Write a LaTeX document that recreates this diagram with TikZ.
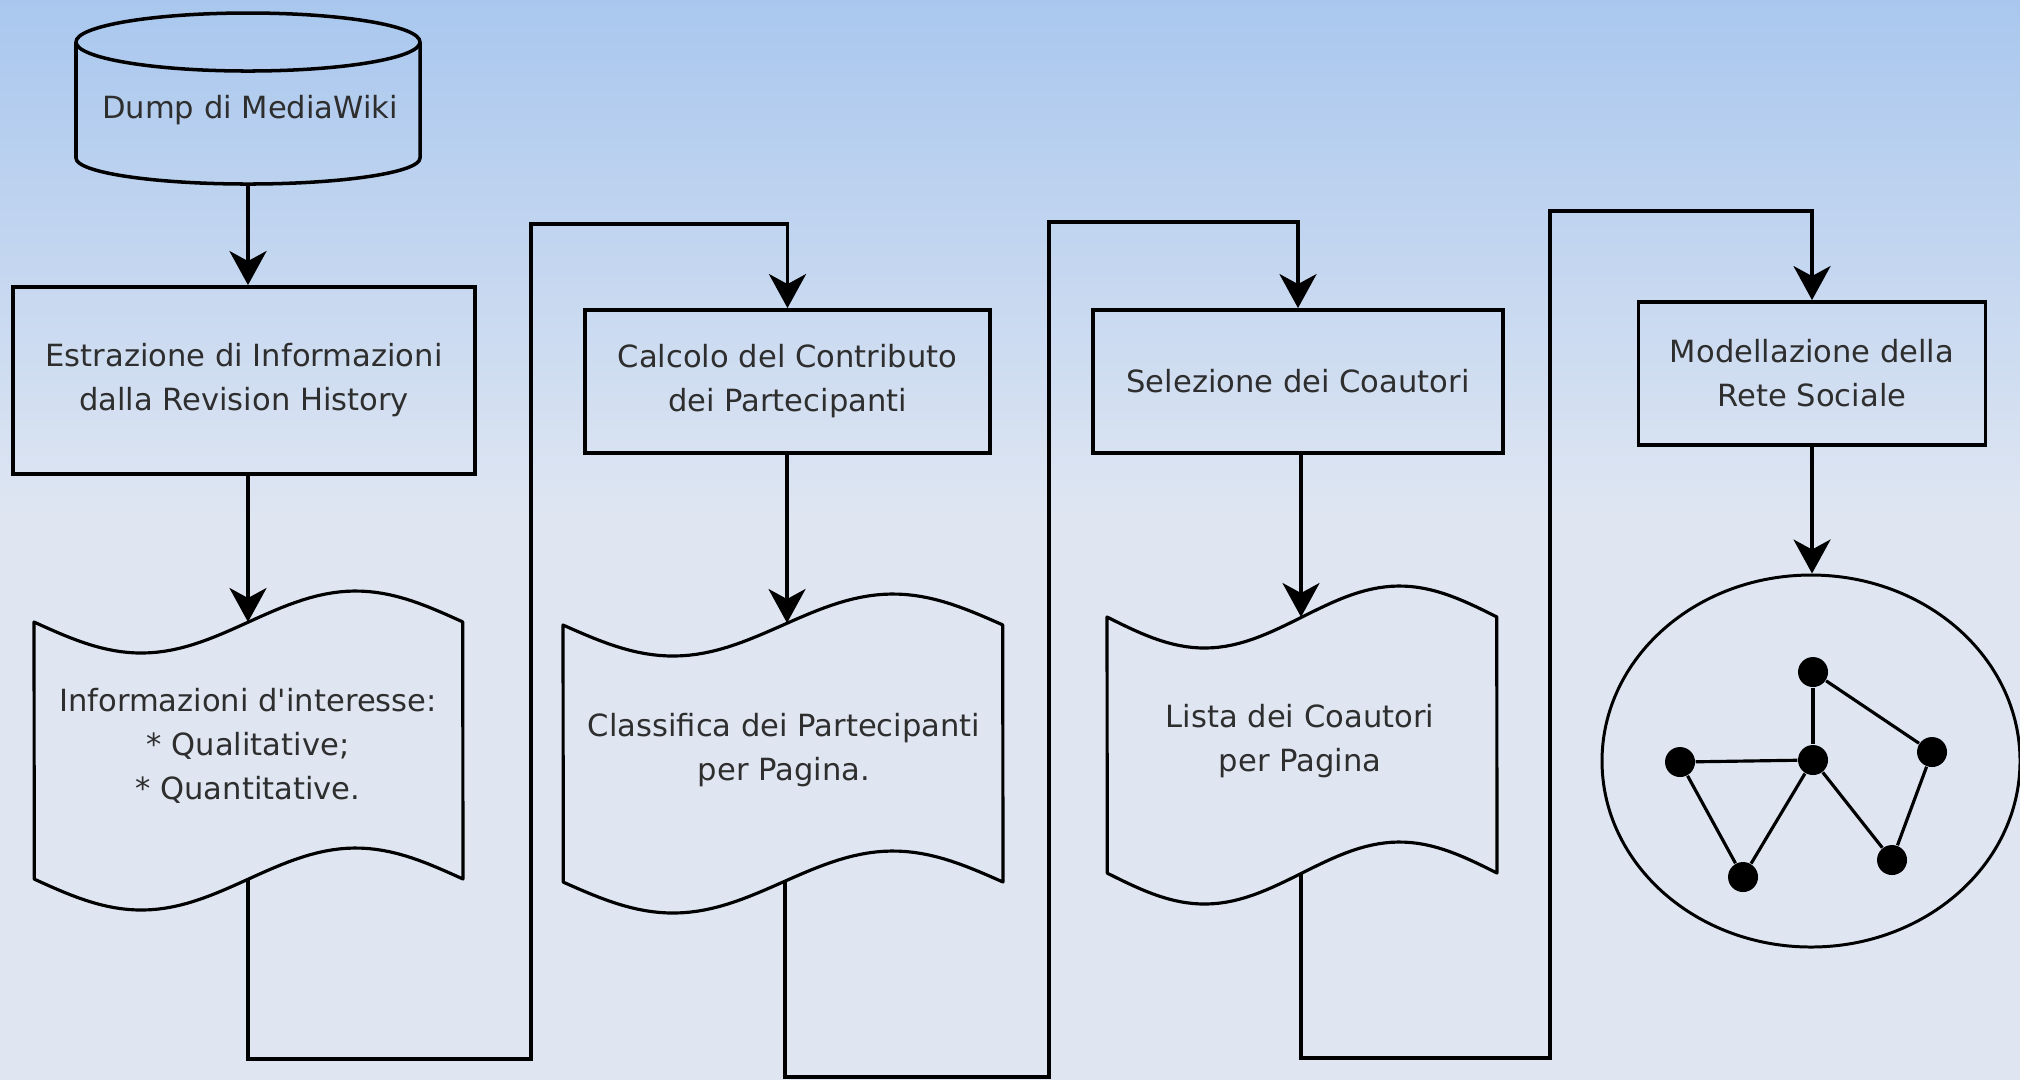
\documentclass[tikz,border=0pt]{standalone}
\usepackage{fontspec}
\setmainfont{DejaVu Sans}
% a family without the TeX ligature mapping, so that ' stays a straight quote
\newfontfamily\labelfont{DejaVu Sans}
\usetikzlibrary{arrows.meta,shapes.geometric}

\definecolor{bgtop}{HTML}{A9C7EE}
\definecolor{bgbot}{HTML}{DFE6F2}
\definecolor{ink}{HTML}{2E2E2E}

% punched-tape outline: left x, right x, top corner y, bottom corner y, amplitude
\newcommand\tapeoutline[5]{%
  \draw[tape] plot[domain=0:1, samples=60] ({#1+\x*(#2-#1)}, {#3+#5*sin(360*\x)})
    -- plot[domain=1:0, samples=60] ({#1+\x*(#2-#1)}, {#4+#5*sin(360*\x)}) -- cycle;}

\tikzset{
  lbl/.style={font=\labelfont\fontsize{8.7}{12.5}\selectfont, text=ink, align=center, inner sep=0pt},
  box/.style={lbl, draw=black, line width=1.1pt, minimum height=14.3mm},
  arr/.style={draw=black, line width=1.1pt,
    -{Stealth[length=3.4mm, width=3.7mm, inset=1.0mm]}},
  tape/.style={draw=black, line width=0.9pt, line join=round},
  dot/.style={circle, fill=black, inner sep=0pt, minimum size=3mm},
  edge/.style={draw=black, line width=0.9pt},
}

\begin{document}
\begin{tikzpicture}[x=0.1mm, y=-0.1mm]
  % background
  \useasboundingbox (0,0) rectangle (2020,1080);
  \shade[top color=bgtop, bottom color=bgbot] (0,0) rectangle (2020,521);
  \fill[bgbot] (0,520) rectangle (2020,1080);

  % data store
  \draw[tape, line width=1pt] (248,42) ellipse [x radius=172, y radius=29];
  \draw[tape, line width=1pt] (76,42) -- (76,158)
    arc[start angle=180, end angle=0, x radius=172, y radius=26] -- (420,42);
  \node[lbl] (dump) at (250,110) {Dump di MediaWiki};
  \coordinate (dbot) at (248,184);

  % process boxes
  \node[box, minimum width=46.2mm, minimum height=18.7mm] (r1) at (244,380.5)
    {Estrazione di Informazioni\\dalla Revision History};
  \node[box, minimum width=40.5mm] (r2) at (787.5,381.5)
    {Calcolo del Contributo\\dei Partecipanti};
  \node[box, minimum width=41mm] (r3) at (1298,381.5)
    {Selezione dei Coautori};
  \node[box, minimum width=34.7mm] (r4) at (1812,373.5)
    {Modellazione della\\Rete Sociale};

  % punched tapes
  \tapeoutline{34}{463}{622}{879}{31}
  \tapeoutline{563}{1003}{625}{882}{31}
  \tapeoutline{1107}{1497}{617}{873}{31}
  \node[lbl] (t1) at (248,746)
    {Informazioni d'interesse:\\* Qualitative;\\* Quantitative.};
  \node[lbl] (t2) at (784,750) {Classifica dei Partecipanti\\per Pagina.};
  \node[lbl] (t3) at (1300,741) {Lista dei Coautori\\per Pagina};
  \coordinate (w1in) at (248,622);  \coordinate (w1out) at (248,879);
  \coordinate (w2in) at (787,623);  \coordinate (w2out) at (785,881);
  \coordinate (w3in) at (1301,617); \coordinate (w3out) at (1301,873);

  % social network
  \node[draw=black, line width=0.85pt, ellipse, minimum width=41.8mm,
        minimum height=37.2mm, inner sep=0pt] (net) at (1811,761) {};
  \node[dot] (ga) at (1813,672) {};
  \node[dot] (gb) at (1813,760) {};
  \node[dot] (gc) at (1680,762) {};
  \node[dot] (gd) at (1743,877) {};
  \node[dot] (ge) at (1932,752) {};
  \node[dot] (gf) at (1892,860) {};
  \draw[edge] (ga) -- (gb);
  \draw[edge] (gc) -- (gb);
  \draw[edge] (gc) -- (gd);
  \draw[edge] (gd) -- (gb);
  \draw[edge] (gb) -- (gf);
  \draw[edge] (gf) -- (ge);
  \draw[edge] (ge) -- (ga);

  % flow bends
  \coordinate (k1a) at (531,1059); \coordinate (k1b) at (531,224);
  \coordinate (k2a) at (1049,1077); \coordinate (k2b) at (1049,222);
  \coordinate (k3a) at (1550,1058); \coordinate (k3b) at (1550,211);

  % connectors
  \draw[arr] (dbot) -- (dbot |- r1.north);
  \draw[arr] (w1in |- r1.south) -- (w1in);
  \draw[arr] (w1out) |- (k1a) -- (k1b) -| (r2.north);
  \draw[arr] (w2in |- r2.south) -- (w2in);
  \draw[arr] (w2out) |- (k2a) -- (k2b) -| (r3.north);
  \draw[arr] (w3in |- r3.south) -- (w3in);
  \draw[arr] (w3out) |- (k3a) -- (k3b) -| (r4.north);
  \draw[arr] (r4.south) -- (r4.south |- net.north);
\end{tikzpicture}
\end{document}
